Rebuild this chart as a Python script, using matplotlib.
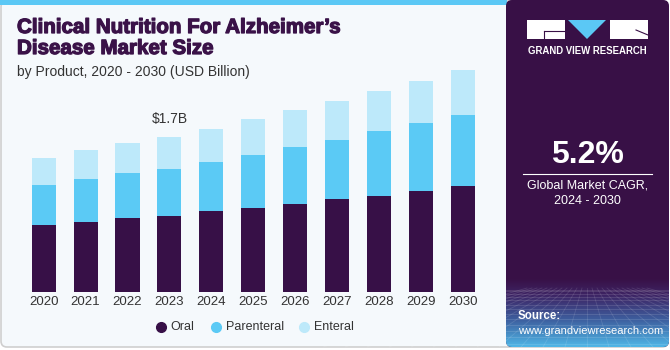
import matplotlib
matplotlib.use('Agg')
import matplotlib.pyplot as plt
from matplotlib.patches import FancyBboxPatch, Rectangle, Polygon
from matplotlib.colors import LinearSegmentedColormap
import matplotlib.patheffects as pe
import numpy as np

# ---- data ----
years = ['2020', '2021', '2022', '2023', '2024', '2025', '2026', '2027', '2028', '2029', '2030']
oral = [0.74, 0.77, 0.81, 0.84, 0.89, 0.92, 0.97, 1.02, 1.06, 1.11, 1.16]
parenteral = [0.44, 0.47, 0.50, 0.51, 0.54, 0.59, 0.62, 0.65, 0.71, 0.75, 0.79]
enteral = [0.29, 0.32, 0.33, 0.35, 0.36, 0.39, 0.41, 0.43, 0.44, 0.46, 0.49]
series_names = ['Oral', 'Parenteral', 'Enteral']
series_colors = ['#371047', '#5BCAF5', '#BDE9FA']
annot_idx = 3
annot_text = '$1.7B'

W, H = 670, 350
fig = plt.figure(figsize=(W / 100, H / 100), dpi=100)
fig.patch.set_facecolor('white')

bg = fig.add_axes([0, 0, 1, 1])
bg.set_xlim(0, W)
bg.set_ylim(H, 0)
bg.axis('off')

# left panel
bg.add_patch(FancyBboxPatch((1, 1), W - 3, 346, boxstyle='round,pad=0,rounding_size=6',
                            facecolor='#F5F9FC', edgecolor='#CFCFCF', lw=1.2, zorder=0))
bg.add_patch(Rectangle((0, 0), 507, 5, facecolor='#5BC8F5', edgecolor='none', zorder=1))
# right panel
rp = FancyBboxPatch((506, 0), 163, 347, boxstyle='round,pad=0,rounding_size=6',
                    facecolor='#381046', edgecolor='none', zorder=2)
bg.add_patch(rp)
cmap = LinearSegmentedColormap.from_list('g', [(0, '#381046'), (0.25, '#3E2565'),
                                               (0.6, '#3D5E9E'), (1.0, '#4FB6E6')])
grad = np.linspace(0, 1, 100).reshape(-1, 1)
im = bg.imshow(grad, cmap=cmap, extent=[506, 669, 347, 278], origin='upper',
               aspect='auto', zorder=3)
im.set_clip_path(rp)
# faint perspective grid
for k in range(14):
    yy = 290 + (k ** 1.5) * 1.3
    if yy > 346:
        break
    bg.plot([506, 669], [yy, yy], color='white', alpha=0.14, lw=0.6, zorder=4)
for k in range(-12, 13):
    bg.plot([587 + k * 5, 587 + k * 22], [288, 347], color='white', alpha=0.12, lw=0.6, zorder=4)
bg.set_xlim(0, W)
bg.set_ylim(H, 0)

# logo
bg.add_patch(Rectangle((527, 20), 38, 19, facecolor='white', edgecolor='none', zorder=5))
bg.plot([544, 565], [30.5, 30.5], color='#381046', lw=0.8, zorder=6)
bg.plot([544, 544], [30.5, 39], color='#381046', lw=0.8, zorder=6)
bg.add_patch(Polygon([(568, 20), (606, 20), (587, 39)], closed=True,
                     facecolor='#5BC8F5', edgecolor='none', zorder=5))
bg.add_patch(Rectangle((610, 20), 38, 19, facecolor='white', edgecolor='none', zorder=5))
bg.plot([636, 648], [30, 35], color='#381046', lw=0.8, zorder=6)
bg.text(587.5, 51, 'GRAND VIEW RESEARCH', color='white', fontsize=6.9, fontweight='bold',
        family='Liberation Sans', ha='center', va='center', zorder=6)

# CAGR
bg.text(587.5, 155, '5.2%', color='white', fontsize=23, fontweight='bold',
        family='Liberation Sans', ha='center', va='center', zorder=6)
bg.plot([523, 652], [173.5, 173.5], color='white', lw=0.8, zorder=6)
bg.text(587.5, 185.5, 'Global Market CAGR,', color='white', fontsize=9,
        family='Liberation Sans', ha='center', va='center', zorder=6)
bg.text(587.5, 201, '2024 - 2030', color='white', fontsize=9,
        family='Liberation Sans', ha='center', va='center', zorder=6)

# source
bg.text(518, 316, 'Source:', color='white', fontsize=8.3, fontweight='bold',
        family='Liberation Sans', ha='left', va='center', zorder=6)
bg.text(518, 330.5, 'www.grandviewresearch.com', color='white', fontsize=8.0,
        family='Liberation Sans', ha='left', va='center', zorder=6)

# title
title_color = '#3A1248'
thick = [pe.withStroke(linewidth=0.9, foreground=title_color)]
bg.text(17, 27.5, 'Clinical Nutrition For Alzheimer\u2019s', color=title_color, fontsize=14.8,
        fontweight='heavy', family='Liberation Sans', ha='left', va='center', zorder=6,
        path_effects=thick)
bg.text(17, 48.5, 'Disease Market Size', color=title_color, fontsize=14.8,
        fontweight='heavy', family='Liberation Sans', ha='left', va='center', zorder=6,
        path_effects=thick)
bg.text(17, 72, 'by Product, 2020 - 2030 (USD Billion)', color='#333333', fontsize=10,
        family='Liberation Sans', ha='left', va='center', zorder=6)

# ---- chart ----
base_px, top_px = 292, 60
px_per_unit = 154.7 / 1.70
left_px, right_px = 20, 487
x0_px, step_px = 43.7, 41.9
ax = fig.add_axes([left_px / W, (H - base_px) / H, (right_px - left_px) / W,
                   (base_px - top_px) / H])
ax.set_zorder(5)
ax.patch.set_visible(False)
x = np.arange(len(years))
bw = 0.575
bottom = np.zeros(len(years))
for vals, c in zip([oral, parenteral, enteral], series_colors):
    ax.bar(x, vals, bw, bottom=bottom, color=c, edgecolor='none')
    bottom = bottom + np.array(vals)
ax.set_xlim((left_px - x0_px) / step_px, (right_px - x0_px) / step_px)
ax.set_ylim(0, (base_px - top_px) / px_per_unit)
for s in ax.spines.values():
    s.set_visible(False)
ax.set_yticks([])
ax.set_xticks(x)
ax.set_xticklabels(years, fontsize=9.5, color='#333333', family='Liberation Sans')
ax.tick_params(axis='x', length=0, pad=3)
ax.annotate(annot_text, (x[annot_idx], bottom[annot_idx]), xytext=(0, 13.5),
            textcoords='offset points', ha='center', va='center', fontsize=10,
            color='#333333', family='Liberation Sans')

# legend
leg_x = [160.7, 216, 303.7]
for lx, name, c in zip(leg_x, series_names, series_colors):
    bg.plot([lx], [327], marker='o', markersize=7, color=c, linestyle='none', zorder=6)
    bg.text(lx + 10, 327, name, fontsize=9, color='#333333', family='Liberation Sans',
            ha='left', va='center', zorder=6)

fig.savefig('out.png', dpi=100, facecolor=fig.get_facecolor())
